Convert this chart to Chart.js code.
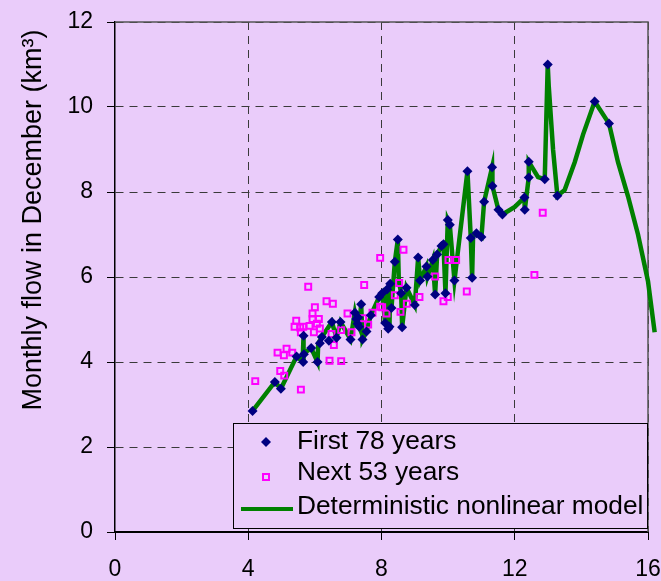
<!DOCTYPE html>
<html>
<head>
<meta charset="utf-8">
<script src="https://cdn.jsdelivr.net/npm/chart.js@4.4.1/dist/chart.umd.min.js"></script>
<style>
  html, body { margin: 0; padding: 0; background: #EACCFA; }
  #wrap { width: 661px; height: 581px; }
</style>
</head>
<body>
<div id="wrap"><canvas id="flow_chart"></canvas></div>
<script>
// tick labels
const xTicks = [0, 4, 8, 12, 16];
const yTicks = [0, 2, 4, 6, 8, 10, 12];

// First 78 years (observed)
const firstX = [4.13, 4.80, 4.98, 5.45, 5.65, 5.66, 5.67, 5.89, 6.08, 6.15, 6.21, 6.42, 6.51, 6.65, 6.77,
  7.07, 7.20, 7.24, 7.28, 7.30, 7.33, 7.39, 7.43, 7.55, 7.68, 7.93, 8.02, 8.11, 8.17, 8.20, 8.24, 8.26,
  8.30, 8.40, 8.49, 8.59, 8.62, 8.75, 9.00, 9.10, 9.16, 9.35, 9.38, 9.54, 9.61, 9.67, 9.80, 9.86, 9.92,
  9.99, 10.05, 10.19, 10.58, 10.68, 10.72, 10.85, 11.00, 11.08, 11.32, 11.33, 11.51, 11.63, 12.29,
  12.30, 12.42, 12.42, 12.90, 12.99, 13.28, 14.40, 14.83];
const firstY = [2.85, 3.53, 3.37, 4.13, 4.00, 4.62, 4.18, 4.33, 4.00, 4.44, 4.59, 4.50, 4.94, 4.57, 4.94,
  4.53, 5.16, 5.01, 4.90, 5.05, 4.83, 5.36, 4.53, 4.72, 5.10, 5.53, 5.62, 4.92, 5.71, 4.78, 4.83, 5.84,
  5.27, 6.36, 6.88, 5.62, 4.82, 5.75, 5.34, 6.46, 5.92, 6.25, 6.01, 6.40, 5.59, 6.53, 6.73, 6.77, 5.62,
  7.34, 7.23, 5.92, 8.49, 6.92, 5.98, 7.03, 6.94, 7.77, 8.58, 8.14, 7.58, 7.47, 7.87,
  7.58, 8.34, 8.71, 8.30, 11.00, 7.91, 10.13, 9.61];

// Next 53 years (observed)
const nextX = [4.21, 4.88, 4.96, 5.07, 5.08, 5.15, 5.32, 5.39, 5.44, 5.58, 5.56, 5.58, 5.65, 5.80, 5.84,
  5.93, 5.93, 5.97, 6.00, 6.06, 6.12, 6.15, 6.35, 6.44, 6.50, 6.54, 6.57, 6.79, 6.79, 6.98, 7.10, 7.45,
  7.48, 7.60, 7.73, 7.96, 7.96, 8.02, 8.15, 8.40, 8.53, 8.57, 8.66, 8.76, 9.14, 9.61, 9.86, 9.99, 10.01,
  10.24, 10.56, 12.59, 12.84];
const nextY = [3.55, 4.22, 3.79, 4.16, 3.68, 4.31, 4.22, 4.83, 4.97, 3.35, 4.81, 4.70, 4.83, 5.77, 4.85,
  5.14, 5.01, 4.70, 5.29, 4.90, 5.01, 4.79, 5.43, 4.03, 4.66, 5.37, 4.40, 4.02, 4.75, 5.14, 4.70, 5.03,
  5.81, 4.88, 5.16, 6.45, 5.30, 5.29, 5.14, 5.57, 5.86, 5.18, 6.64, 5.37, 5.53, 6.01, 5.43, 5.53, 6.40,
  6.40, 5.66, 6.05, 7.51];

// Deterministic nonlinear model (runs a little past the x axis end, as in the original)
const modelX = [4.13, 4.80, 4.98, 5.45, 5.65, 5.66, 5.64, 5.89, 6.08, 6.10, 6.21, 6.51, 6.65, 6.77, 7.07,
  7.20, 7.24, 7.33, 7.39, 7.43, 7.55, 7.68, 7.93, 8.02, 8.11, 8.17, 8.24, 8.26, 8.30, 8.40, 8.49, 8.52,
  8.59, 8.62, 8.75, 9.00, 9.10, 9.16, 9.35, 9.38, 9.54, 9.61, 9.67, 9.80, 9.86, 9.92, 9.99, 10.05, 10.19,
  10.58, 10.68, 10.72, 10.75, 10.85, 11.00, 11.08, 11.32, 11.33, 11.51, 11.63, 12.00, 12.29, 12.30,
  12.42, 12.42, 12.70, 12.90, 12.99, 13.02, 13.15, 13.28, 13.50, 13.80, 14.05, 14.40, 14.83, 15.10,
  15.40, 15.70, 16.00, 16.20];
const modelY = [2.85, 3.53, 3.37, 4.13, 4.00, 4.62, 4.18, 4.33, 4.00, 4.44, 4.59, 4.94, 4.57, 4.94, 4.53,
  5.16, 5.01, 4.83, 5.36, 4.53, 4.72, 5.10, 5.53, 5.62, 4.92, 5.71, 4.83, 5.84, 5.27, 6.36, 6.88, 5.90,
  5.62, 4.82, 5.75, 5.34, 6.46, 5.92, 6.25, 6.01, 6.40, 5.59, 6.53, 6.73, 6.77, 5.62, 7.34, 7.23, 5.92,
  8.49, 6.92, 5.98, 7.00, 7.03, 6.94, 7.77, 8.58, 8.14, 7.58, 7.47, 7.65, 7.87, 7.58,
  8.34, 8.71, 8.35, 8.30, 11.00, 10.50, 9.00, 7.91, 8.05, 8.70, 9.35, 10.13, 9.61, 8.70,
  7.90, 7.00, 5.90, 4.70];

const bg = '#EACCFA';
const font = 'Arial, "Liberation Sans", sans-serif';

function toPoints(xs, ys) {
  return xs.map((x, i) => ({x: x, y: ys[i]}));
}

// background, plot frame and the boxed legend inside the plot
const framePlugin = {
  id: 'framePlugin',
  beforeDraw(chart) {
    const ctx = chart.ctx;
    ctx.save();
    ctx.fillStyle = bg;
    ctx.fillRect(0, 0, chart.width, chart.height);
    ctx.restore();
  },
  beforeDatasetsDraw(chart) {
    const a = chart.chartArea;
    const ctx = chart.ctx;
    ctx.save();
    ctx.strokeStyle = '#555555';
    ctx.lineWidth = 1.5;
    ctx.beginPath();
    ctx.moveTo(a.left, a.top);
    ctx.lineTo(a.right, a.top);
    ctx.lineTo(a.right, a.bottom);
    ctx.stroke();
    ctx.restore();
  },
  afterDraw(chart) {
    const a = chart.chartArea;
    const ctx = chart.ctx;
    const ds = chart.data.datasets;
    const box = {left: 233, top: 423, right: a.right, bottom: 529};
    ctx.save();
    ctx.fillStyle = bg;
    ctx.fillRect(box.left, box.top, box.right - box.left, box.bottom - box.top);
    ctx.strokeStyle = '#000000';
    ctx.lineWidth = 1;
    ctx.strokeRect(box.left + 0.5, box.top + 0.5, box.right - box.left - 1, box.bottom - box.top - 1);

    ctx.font = '26.3px ' + font;
    ctx.textBaseline = 'middle';
    const rows = [442, 473, 507];
    const markX = 266;

    // diamond
    ctx.fillStyle = ds[0].backgroundColor;
    ctx.beginPath();
    ctx.moveTo(markX - 5, rows[0]);
    ctx.lineTo(markX, rows[0] - 5);
    ctx.lineTo(markX + 5, rows[0]);
    ctx.lineTo(markX, rows[0] + 5);
    ctx.closePath();
    ctx.fill();
    // square
    ctx.strokeStyle = ds[1].borderColor;
    ctx.lineWidth = 2;
    ctx.strokeRect(markX - 3, rows[1] + 1, 6, 6);
    // line
    ctx.strokeStyle = ds[2].borderColor;
    ctx.lineWidth = 4;
    ctx.beginPath();
    ctx.moveTo(241, rows[2] + 2);
    ctx.lineTo(293, rows[2] + 2);
    ctx.stroke();

    ctx.fillStyle = '#000000';
    for (let i = 0; i < ds.length; i++) {
      ctx.fillText(ds[i].label, 297, rows[i]);
    }
    ctx.restore();
  }
};

function gridColor(c) {
  if (c.tick && (c.tick.value === 0)) return 'rgba(0,0,0,0)';
  return '#3a3a3a';
}

const chart_setup = {
  type: 'scatter',
  data: {
    datasets: [{
      label: 'First 78 years',
      data: toPoints(firstX, firstY),
      pointStyle: 'rectRot',
      pointRadius: 5,
      backgroundColor: '#000080',
      borderColor: '#000080',
      borderWidth: 0,
    }, {
      label: 'Next 53 years',
      data: toPoints(nextX, nextY),
      pointStyle: 'rect',
      pointRadius: 4.2,
      backgroundColor: 'rgba(0,0,0,0)',
      borderColor: '#FF00FF',
      borderWidth: 2,
    }, {
      label: 'Deterministic nonlinear model',
      type: 'line',
      data: toPoints(modelX, modelY),
      borderColor: '#008000',
      borderWidth: 4.5,
      pointRadius: 0,
      tension: 0,
      fill: false,
      clip: false,
    }]
  },
  options: {
    animation: false,
    responsive: true,
    maintainAspectRatio: false,
    layout: {
      padding: 0
    },
    plugins: {
      legend: {display: false},
      tooltip: {enabled: false}
    },
    scales: {
      x: {
        type: 'linear',
        min: 0,
        max: 16,
        afterBuildTicks: s => { s.ticks = xTicks.map(v => ({value: v})); },
        afterFit: s => { s.height = 49; s.paddingRight = 13; s.paddingLeft = 0; },
        ticks: {
          color: '#000000',
          padding: 16,
          font: {family: font, size: 23}
        },
        grid: {
          color: gridColor,
          lineWidth: 1,
          tickColor: '#000000',
          tickLength: 8,
        },
        border: {color: '#000000', width: 2, dash: [8, 6]}
      },
      y: {
        min: 0,
        max: 12,
        afterBuildTicks: s => { s.ticks = yTicks.map(v => ({value: v})); },
        afterFit: s => { s.width = 115; s.paddingTop = 22; s.paddingBottom = 0; },
        ticks: {
          color: '#000000',
          padding: 14,
          font: {family: font, size: 23}
        },
        grid: {
          color: gridColor,
          lineWidth: 1,
          tickColor: '#000000',
          tickLength: 8,
        },
        border: {color: '#000000', width: 1.5, dash: [8, 6]},
        title: {
          display: true,
          text: 'Monthly flow in December (km³) ',
          align: 'end',
          color: '#000000',
          font: {family: font, size: 27},
          padding: {top: 17, bottom: 0}
        }
      }
    }
  },
  plugins: [framePlugin]
};

new Chart(document.getElementById('flow_chart'), chart_setup);
</script>
</body>
</html>
